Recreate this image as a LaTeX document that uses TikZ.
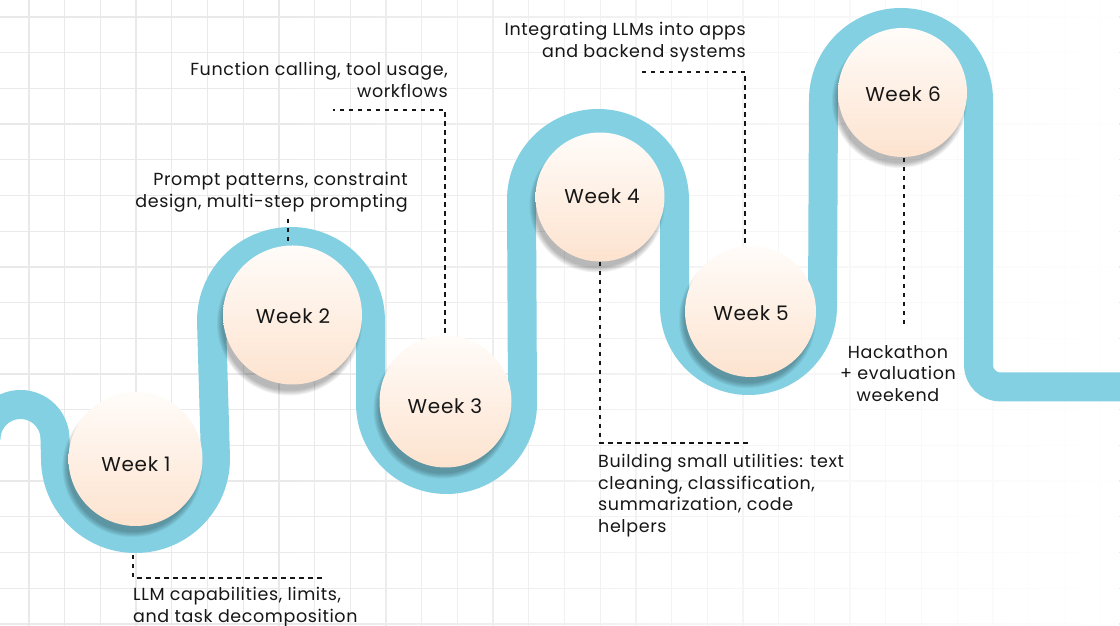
\documentclass[tikz,border=0pt]{standalone}
\usepackage{fontspec}
\setmainfont{Poppins}[LetterSpace=3.5]
\usetikzlibrary{fadings}
\definecolor{pathblue}{RGB}{130,208,226}
\definecolor{peachtop}{RGB}{255,252,249}
\definecolor{peachbot}{RGB}{253,227,207}
\definecolor{gridc}{RGB}{233,233,233}
\definecolor{ink}{RGB}{22,22,22}
\tikzfading[name=gridfade, left color=transparent!100, right color=transparent!0]
\newcommand\wkshadow[3]{\foreach \s in {0,...,5}{\fill[black, opacity=0.05] ({#1-3},{#2-8}) circle[radius={#3+3-\s}];}}
\begin{document}
\begin{tikzpicture}[x=1pt,y=1pt,
  conn/.style={ink, line width=2.4pt, dash pattern=on 4.5pt off 4.5pt},
  weekc/.style={circle, minimum size=134pt, inner sep=0pt, top color=peachtop, bottom color=peachbot, draw=none},
  weekt/.style={font=\fontsize{20}{24}\selectfont, text=ink, inner sep=0pt},
  desc/.style={font=\fontsize{17.5}{21.5}\selectfont, text=ink, inner sep=0pt},
]
\useasboundingbox (0,0) rectangle (1120,626);
\clip (0,0) rectangle (1120,626);
\fill[white] (0,0) rectangle (1120,626);
% grid
\foreach \k in {0,...,30} \draw[gridc, line width=1.3pt] ({29+35.7*\k},0) -- ({29+35.7*\k},626);
\foreach \k in {0,...,17} \draw[gridc, line width=1.3pt] (0,{609-35.7*\k}) -- (1120,{609-35.7*\k});
\fill[white, path fading=gridfade] (260,0) rectangle (1120,626);
% winding road
\draw[pathblue, line width=29pt, line join=round]
 (-14,187) arc[start angle=180, end angle=0, radius=34.5]
 -- (55.5,167.5) arc[start angle=180, end angle=360, radius=80]
 -- (211.5,305) arc[start angle=180, end angle=0, radius=79.5]
 -- (370.5,222.5) arc[start angle=180, end angle=360, radius=76]
 -- (521.5,426) arc[start angle=180, end angle=0, radius=76.5]
 -- (674.5,319.5) arc[start angle=180, end angle=360, radius=74]
 -- (823.5,526) arc[start angle=180, end angle=0, radius=77.5]
 [rounded corners=22pt] -- (978.5,239) -- (1140,239);
% shadows
\wkshadow{135.5}{167}{67}
\wkshadow{292.5}{311}{69.5}
\wkshadow{445.5}{224.5}{66}
\wkshadow{600}{429}{64.5}
\wkshadow{750.5}{314.5}{65.5}
\wkshadow{902.5}{533.5}{64.5}
% circles
\node[weekc] (w1) at (135.5,167) {};
\node[weekc, minimum size=139pt] (w2) at (292.5,311) {};
\node[weekc, minimum size=132pt] (w3) at (445.5,224.5) {};
\node[weekc, minimum size=129pt] (w4) at (600,429) {};
\node[weekc, minimum size=131pt] (w5) at (750.5,314.5) {};
\node[weekc, minimum size=129pt] (w6) at (902.5,533.5) {};
\node[weekt] (t1) at (136,162) {Week 1};
\node[weekt] (t2) at (293,310) {Week 2};
\node[weekt] (t3) at (445,220) {Week 3};
\node[weekt] (t4) at (602,430) {Week 4};
\node[weekt] (t5) at (751,312.5) {Week 5};
\node[weekt] (t6) at (903,532) {Week 6};
% descriptions
\node[desc, anchor=north west, align=left] (d1) at (133,39) {LLM capabilities, limits,\\and task decomposition};
\node[desc, anchor=north east, align=right] (d2) at (408,454) {Prompt patterns, constraint\\design, multi-step prompting};
\node[desc, anchor=north east, align=right] (d3) at (448,564) {Function calling, tool usage,\\workflows};
\node[desc, anchor=north west, align=left] (d4) at (598,172) {Building small utilities: text\\cleaning, classification,\\summarization, code\\helpers};
\node[desc, anchor=north east, align=right] (d5) at (746,604) {Integrating LLMs into apps\\and backend systems};
\node[desc, anchor=north, align=center] (d6) at (898,281) {Hackathon\\+ evaluation\\weekend};
% connectors
\coordinate (c1s) at (133,71); \coordinate (c1e) at (325,48);
\coordinate (c2s) at (288,407); \coordinate (c2e) at (288,384);
\coordinate (c3s) at (445,293); \coordinate (c3e) at (333,516);
\coordinate (c4s) at (600,364); \coordinate (c4e) at (752,183);
\coordinate (c5s) at (745,383); \coordinate (c5e) at (638,554);
\coordinate (c6s) at (904,468); \coordinate (c6e) at (904,298);
\draw[conn] (c1s) |- (c1e);
\draw[conn] (c2s) -- (c2e);
\draw[conn] (c3s) |- (c3e);
\draw[conn] (c4s) |- (c4e);
\draw[conn] (c5s) |- (c5e);
\draw[conn] (c6s) -- (c6e);
\end{tikzpicture}
\end{document}
